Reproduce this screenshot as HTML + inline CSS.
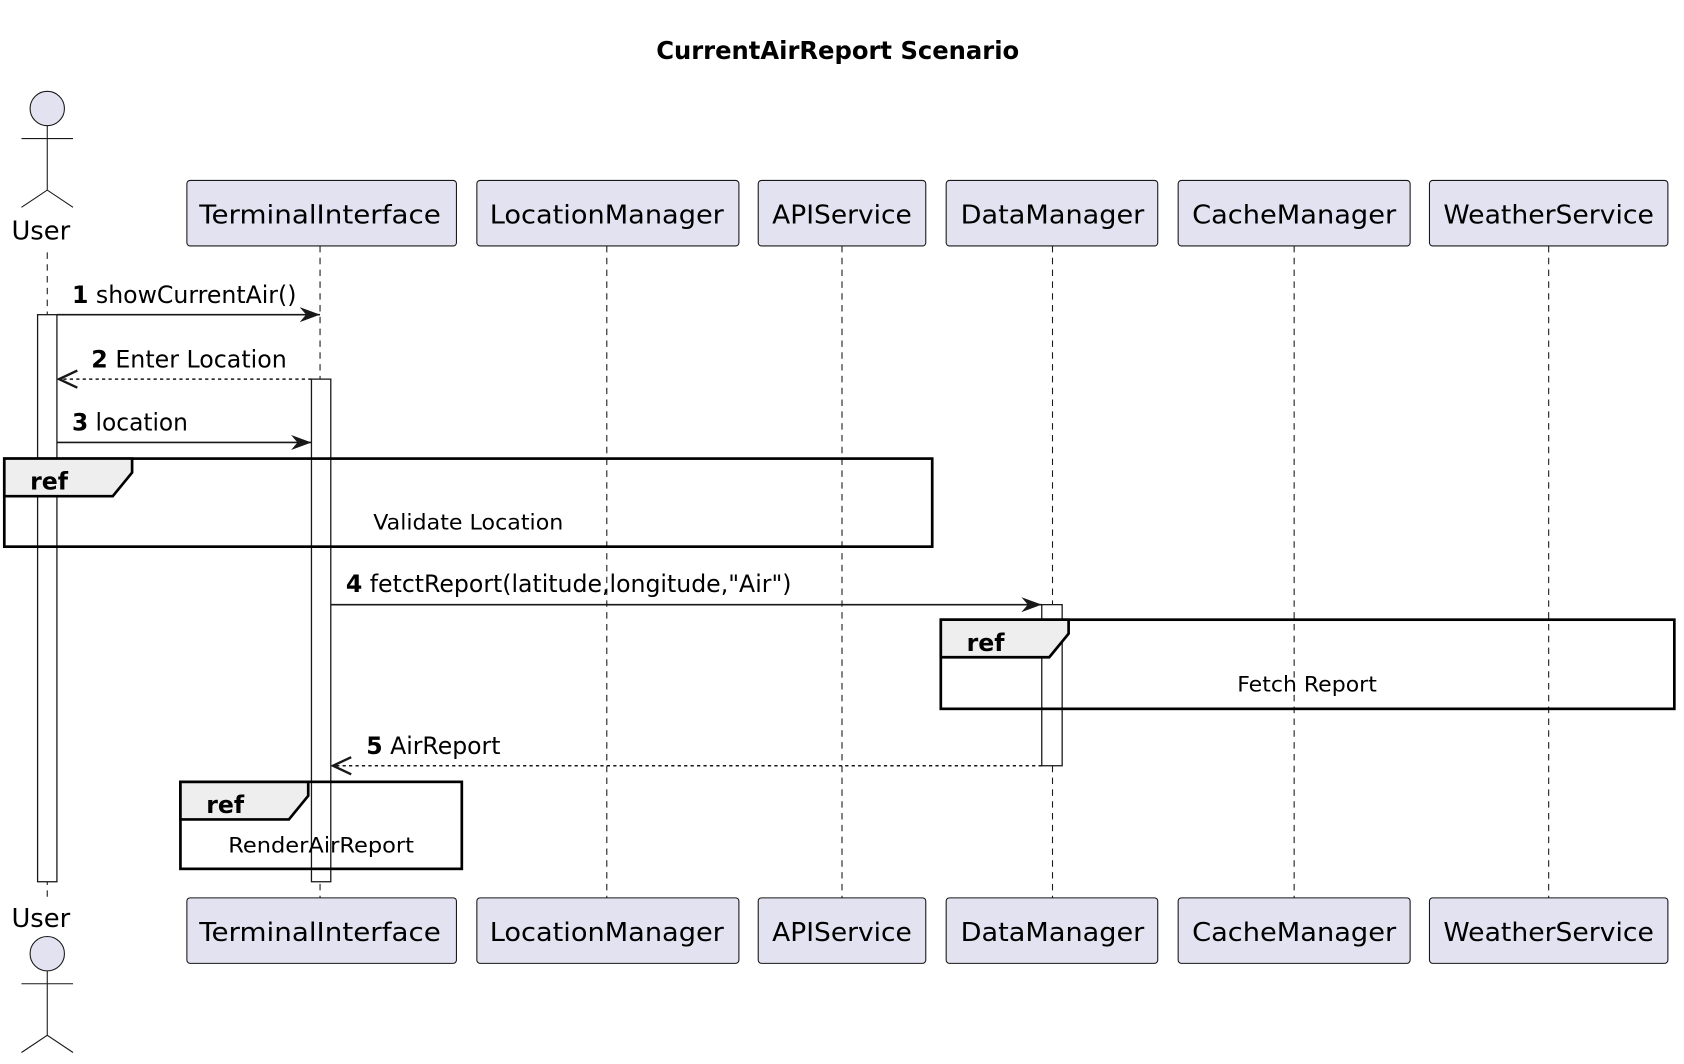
<!DOCTYPE html>
<html><head><meta charset="utf-8"><style>html,body{margin:0;padding:0;background:#fff}svg{display:block}</style></head>
<body>
<svg width="1684" height="1064" viewBox="0 0 1568 990.7" xmlns="http://www.w3.org/2000/svg" font-family="DejaVu Sans, Liberation Sans, sans-serif">
<defs>
<marker id="a" markerWidth="20" markerHeight="14" refX="19" refY="7" orient="auto" markerUnits="userSpaceOnUse"><path d="M0,0 L19,7 L0,14 L6,7 Z" fill="#181818"/></marker>
<marker id="o" markerWidth="20" markerHeight="18" refX="18" refY="9" orient="auto" markerUnits="userSpaceOnUse"><path d="M1,1 L18,9 L1,17" fill="none" stroke="#181818" stroke-width="2.2"/></marker>
</defs>
<text x="780" y="55" text-anchor="middle" font-size="23" font-weight="bold" textLength="338" lengthAdjust="spacingAndGlyphs">CurrentAirReport Scenario</text>
<g stroke="#181818" stroke-width="1" stroke-dasharray="6,5">
<line x1="44" y1="235" x2="44" y2="836"/><line x1="298" y1="229" x2="298" y2="836"/><line x1="565" y1="229" x2="565" y2="836"/><line x1="784" y1="229" x2="784" y2="836"/><line x1="980" y1="229" x2="980" y2="836"/><line x1="1205" y1="229" x2="1205" y2="836"/><line x1="1442" y1="229" x2="1442" y2="836"/>
</g>
<g fill="#e2e2f0" stroke="#181818" stroke-width="1">
<circle cx="44" cy="101" r="16"/><circle cx="44" cy="888" r="16"/>
<rect x="174" y="168" width="251" height="61" rx="3"/><rect x="444" y="168" width="244" height="61" rx="3"/><rect x="706" y="168" width="156" height="61" rx="3"/><rect x="881" y="168" width="197" height="61" rx="3"/><rect x="1097" y="168" width="216" height="61" rx="3"/><rect x="1331" y="168" width="222" height="61" rx="3"/>
<rect x="174" y="836" width="251" height="61" rx="3"/><rect x="444" y="836" width="244" height="61" rx="3"/><rect x="706" y="836" width="156" height="61" rx="3"/><rect x="881" y="836" width="197" height="61" rx="3"/><rect x="1097" y="836" width="216" height="61" rx="3"/><rect x="1331" y="836" width="222" height="61" rx="3"/>
</g>
<g stroke="#181818" stroke-width="1" fill="none">
<path d="M44,117 V177 M20,129 H68 M20,193 L44,177 L68,193"/>
<path d="M44,904 V964 M20,916 H68 M20,980 L44,964 L68,980"/>
</g>
<g font-size="24" fill="#000" text-anchor="middle">
<text x="38" y="223">User</text><text x="38" y="863">User</text>
<text x="298" y="208" textLength="225" lengthAdjust="spacingAndGlyphs">TerminalInterface</text><text x="565" y="208" textLength="218" lengthAdjust="spacingAndGlyphs">LocationManager</text><text x="784" y="208" textLength="130" lengthAdjust="spacingAndGlyphs">APIService</text><text x="980" y="208" textLength="171" lengthAdjust="spacingAndGlyphs">DataManager</text><text x="1205" y="208" textLength="190" lengthAdjust="spacingAndGlyphs">CacheManager</text><text x="1442" y="208" textLength="196" lengthAdjust="spacingAndGlyphs">WeatherService</text>
<text x="298" y="876" textLength="225" lengthAdjust="spacingAndGlyphs">TerminalInterface</text><text x="565" y="876" textLength="218" lengthAdjust="spacingAndGlyphs">LocationManager</text><text x="784" y="876" textLength="130" lengthAdjust="spacingAndGlyphs">APIService</text><text x="980" y="876" textLength="171" lengthAdjust="spacingAndGlyphs">DataManager</text><text x="1205" y="876" textLength="190" lengthAdjust="spacingAndGlyphs">CacheManager</text><text x="1442" y="876" textLength="196" lengthAdjust="spacingAndGlyphs">WeatherService</text>
</g>
<g fill="#fff" stroke="#181818" stroke-width="1.2">
<rect x="35" y="293" width="18" height="528"/><rect x="290" y="353" width="18" height="468"/><rect x="970" y="563" width="19" height="150"/>
</g>
<g stroke="#181818" stroke-width="1.5" fill="none">
<line x1="53" y1="293" x2="298" y2="293" marker-end="url(#a)"/>
<line x1="290" y1="353" x2="55" y2="353" stroke-dasharray="3,3" marker-end="url(#o)"/>
<line x1="53" y1="412" x2="290" y2="412" marker-end="url(#a)"/>
<line x1="308" y1="563" x2="970" y2="563" marker-end="url(#a)"/>
<line x1="970" y1="713" x2="310" y2="713" stroke-dasharray="3,3" marker-end="url(#o)"/>
</g>
<g font-size="22" fill="#000">
<text x="67" y="282" textLength="209" lengthAdjust="spacingAndGlyphs"><tspan font-weight="bold">1</tspan> showCurrentAir()</text>
<text x="85" y="342" textLength="182" lengthAdjust="spacingAndGlyphs"><tspan font-weight="bold">2</tspan> Enter Location</text>
<text x="67" y="401" textLength="108" lengthAdjust="spacingAndGlyphs"><tspan font-weight="bold">3</tspan> location</text>
<text x="322" y="551" textLength="415" lengthAdjust="spacingAndGlyphs"><tspan font-weight="bold">4</tspan> fetctReport(latitude,longitude,"Air")</text>
<text x="341" y="702" textLength="125" lengthAdjust="spacingAndGlyphs"><tspan font-weight="bold">5</tspan> AirReport</text>
</g>
<g stroke="#000" stroke-width="2.5">
<rect x="4" y="427" width="864" height="82" fill="none"/><path d="M4,427 H123 V440 L105,462 H4 Z" fill="#eeeeee"/>
<rect x="876" y="577" width="683" height="83" fill="none"/><path d="M876,577 H995 V590 L977,612 H876 Z" fill="#eeeeee"/>
<rect x="168" y="728" width="262" height="81" fill="none"/><path d="M168,728 H287 V741 L269,763 H168 Z" fill="#eeeeee"/>
</g>
<g font-size="22" font-weight="bold"><text x="28" y="456">ref</text><text x="900" y="606">ref</text><text x="192" y="757">ref</text></g>
<g font-size="20" text-anchor="middle"><text x="436" y="493" textLength="177" lengthAdjust="spacingAndGlyphs">Validate Location</text><text x="1217" y="644" textLength="130" lengthAdjust="spacingAndGlyphs">Fetch Report</text><text x="299" y="794" textLength="173" lengthAdjust="spacingAndGlyphs">RenderAirReport</text></g>
</svg>
</body></html>
